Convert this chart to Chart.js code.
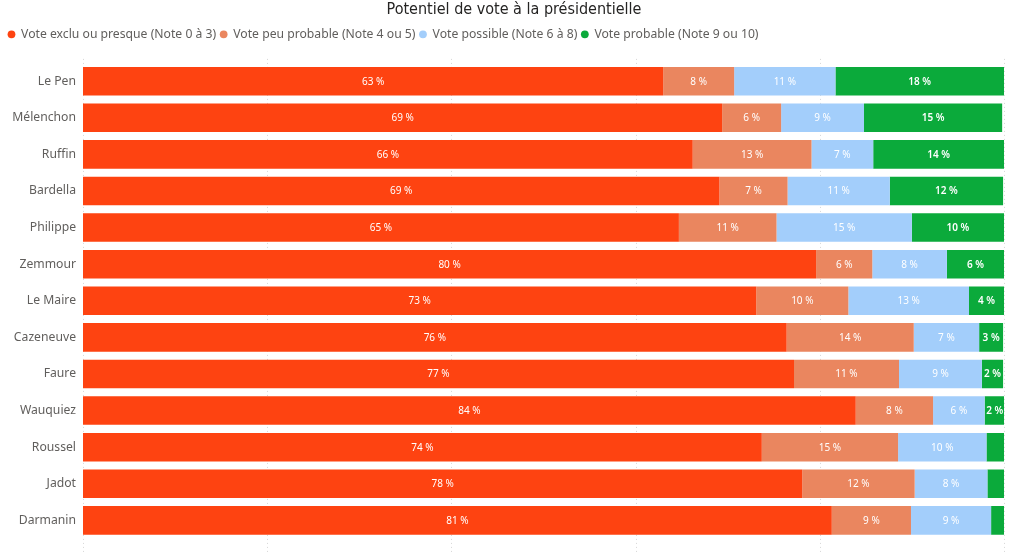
<!DOCTYPE html>
<html><head><meta charset="utf-8">
<script src="https://cdn.jsdelivr.net/npm/chart.js@4/dist/chart.umd.min.js"></script>
<style>html,body{margin:0;padding:0;background:#fff;}#wrap{width:1024px;height:553px;}</style>
</head><body><div id="wrap"><canvas id="c" width="1024" height="553"></canvas></div>
<script>
const categories = ["Le Pen","Mélenchon","Ruffin","Bardella","Philippe","Zemmour","Le Maire","Cazeneuve","Faure","Wauquiez","Roussel","Jadot","Darmanin"];
const seriesNames = ["Vote exclu ou presque (Note 0 à 3)","Vote peu probable (Note 4 ou 5)","Vote possible (Note 6 à 8)","Vote probable (Note 9 ou 10)"];
const exclu    = [63.0, 69.4, 66.2, 69.1, 64.7, 79.6, 73.1, 76.4, 77.2, 83.9, 73.7, 78.1, 81.3];
const peu      = [7.7, 6.4, 12.9, 7.4, 10.6, 6.1, 10.0, 13.8, 11.4, 8.4, 14.8, 12.2, 8.6];
const possible = [11.0, 9.0, 6.7, 11.1, 14.7, 8.1, 13.1, 7.1, 9.0, 5.6, 9.6, 7.9, 8.7];
const probable = [18.3, 15.0, 14.2, 12.3, 10.0, 6.2, 3.8, 2.6, 2.3, 2.2, 1.9, 1.8, 1.5];
const colors = ["#FE4311","#EA865F","#A3CEFB","#0BAA3B"];
const xTicks = [0,20,40,60,80,100];
const FONT = "'Noto Sans', 'Open Sans', sans-serif";

const labelPlugin = {
  id: 'segLabels',
  afterDatasetsDraw(chart) {
    const ctx = chart.ctx;
    ctx.save();
    ctx.textAlign = 'center';
    ctx.textBaseline = 'middle';
    chart.data.datasets.forEach((ds, di) => {
      const meta = chart.getDatasetMeta(di);
      meta.data.forEach((el, i) => {
        const v = ds.data[i];
        if (v < 2) return;
        const cx = (el.x + el.base) / 2;
        ctx.font = (di === 3 ? '600 ' : '400 ') + '10px ' + FONT;
        ctx.fillStyle = '#ffffff';
        ctx.fillText(Math.round(v) + ' %', cx, el.y + 0.5);
      });
    });
    ctx.restore();
  }
};

const gridPlugin = {
  id: 'dotGrid',
  beforeDatasetsDraw(chart) {
    const ctx = chart.ctx, xs = chart.scales.x, area = chart.chartArea;
    ctx.save();
    ctx.strokeStyle = '#d6d6d6';
    ctx.lineWidth = 1;
    ctx.setLineDash([1, 3]);
    xTicks.forEach(v => {
      const px = Math.round(xs.getPixelForValue(v)) + 0.5;
      ctx.beginPath();
      ctx.moveTo(px, area.top - 4);
      ctx.lineTo(px, chart.height);
      ctx.stroke();
    });
    ctx.restore();
  }
};

const legendSpace = {
  id: 'legendSpace',
  beforeInit(chart) {
    const origFit = chart.legend.fit;
    chart.legend.fit = function () {
      origFit.bind(chart.legend)();
      this.height += 12.5;
    };
  }
};

const datasets = [exclu, peu, possible, probable].map((d, i) => ({
  label: seriesNames[i],
  data: d,
  backgroundColor: colors[i],
  borderWidth: 0,
  barPercentage: 0.78,
  categoryPercentage: 1.0
}));

new Chart(document.getElementById('c'), {
  type: 'bar',
  data: { labels: categories, datasets },
  plugins: [gridPlugin, labelPlugin, legendSpace],
  options: {
    indexAxis: 'y',
    responsive: false,
    animation: false,
    events: [],
    layout: { padding: { left: 4, right: 0, top: 0, bottom: 6 } },
    plugins: {
      title: {
        display: true,
        text: 'Potentiel de vote à la présidentielle',
        color: '#252423',
        font: { family: "'DejaVu Sans Condensed', 'Noto Sans', sans-serif", size: 16, weight: '500' },
        padding: { top: 0, bottom: 5 }
      },
      legend: {
        display: true,
        position: 'top',
        align: 'start',
        labels: {
          usePointStyle: true,
          pointStyle: 'circle',
          boxWidth: 7,
          boxHeight: 5.5,
          padding: 4,
          color: '#605E5C',
          font: { family: FONT, size: 12.2 }
        }
      },
      tooltip: { enabled: false }
    },
    scales: {
      x: {
        stacked: true,
        min: 0,
        max: 100,
        afterBuildTicks(scale) { scale.ticks = xTicks.map(v => ({ value: v })); },
        ticks: { display: false },
        border: { display: false },
        grid: { display: false }
      },
      y: {
        stacked: true,
        afterFit(scale) { scale.width = 79; },
        ticks: { color: '#605E5C', font: { family: FONT, size: 12.2 }, padding: 7 },
        border: { display: false },
        grid: { display: false, drawTicks: false }
      },
      yRight: {
        type: 'category',
        position: 'right',
        afterFit(scale) { scale.width = 20; },
        ticks: { display: false },
        border: { display: false },
        grid: { display: false, drawTicks: false }
      }
    }
  }
});
</script>
</body></html>
